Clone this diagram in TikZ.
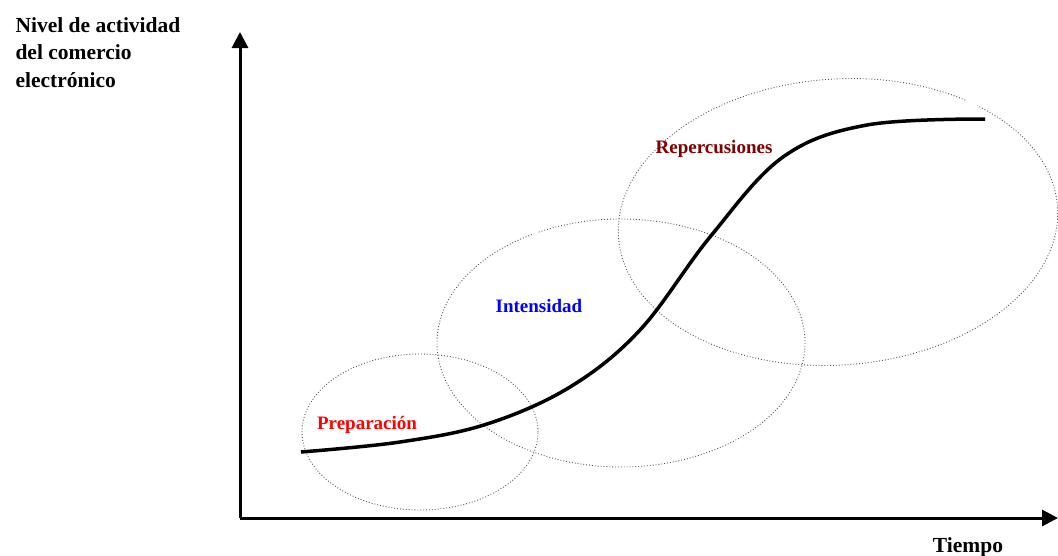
\documentclass[tikz,border=0pt]{standalone}
\usepackage{fontspec}
\setmainfont{Liberation Serif}
\usepackage{tikz}
\usetikzlibrary{arrows.meta}
\definecolor{myred}{RGB}{255,0,0}
\definecolor{myblue}{RGB}{0,0,255}
\definecolor{mymaroon}{RGB}{128,0,0}
\definecolor{mygray}{RGB}{80,80,80}

\begin{document}
\begin{tikzpicture}[x=1pt,y=1pt,
  axis/.style={line width=3pt,-{Triangle[length=16pt,width=16pt]}},
  ring/.style={mygray,dotted,line width=0.9pt},
  phase/.style={font=\bfseries\fontsize{19}{22}\selectfont,anchor=base},
  bigtext/.style={font=\bfseries\fontsize{21.5}{27.5}\selectfont}]
\useasboundingbox (0,0) rectangle (1058,-555);

% axes
\coordinate (origin) at (240,-518);
\coordinate (ytop) at (240,-32);
\coordinate (xend) at (1058,-518);
\draw[axis] (origin) -- (ytop);
\draw[axis] (origin) -- (xend);

\node[bigtext,anchor=base west,align=left] (ylabel) at (12,-87)
  {Nivel de actividad\\del comercio\\electrónico};
\node[bigtext,anchor=base] (xlabel) at (968,-552) {Tiempo};

% phases
\draw[ring] (420,-432) ellipse[x radius=118,y radius=78];
\begin{scope}[shift={(621,-343)}]
\draw[ring] (119:184 and 124) arc[start angle=119,end angle=477,x radius=184,y radius=124];
\end{scope}
\begin{scope}[shift={(838,-222)},rotate=4]
\draw[ring] (52:220 and 143) arc[start angle=52,end angle=408,x radius=220,y radius=143];
\end{scope}

\node[phase,text=myred] (prep) at (367,-429) {Preparación};
\node[phase,text=myblue] (inten) at (539,-312) {Intensidad};
\node[phase,text=mymaroon] (reper) at (714,-153) {Repercusiones};

% adoption curve
\draw[line width=3.5pt] plot[smooth,tension=0.6] coordinates {(301,-452) (400,-442)
  (487,-424) (570,-387) (640,-330) (710,-237) (783,-157) (867,-125) (985,-119)};

\end{tikzpicture}
\end{document}
